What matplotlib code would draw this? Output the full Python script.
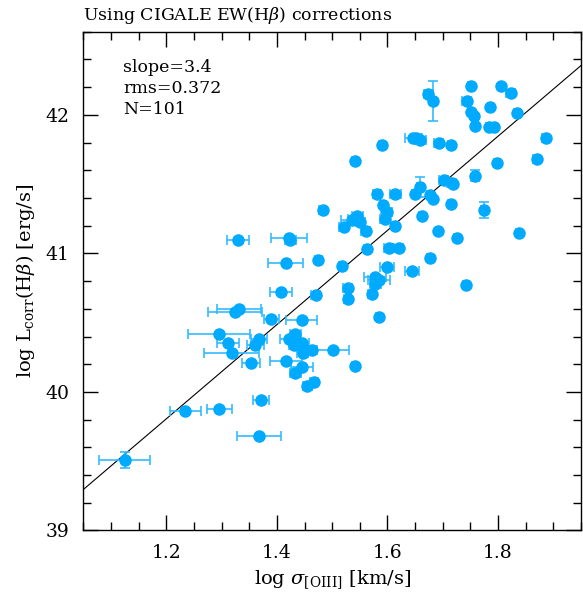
import numpy as np
import matplotlib.pyplot as plt
from matplotlib.ticker import MultipleLocator

# log sigma[OIII], log L_corr(Hbeta), errors
log_sigma = [1.751, 1.806, 1.823, 1.674, 1.683, 1.743, 1.786, 1.751, 1.756, 1.834,
             1.759, 1.784, 1.793, 1.646, 1.652, 1.659, 1.693, 1.715, 1.590, 1.541,
             1.886, 1.870, 1.798, 1.759, 1.702, 1.716, 1.718, 1.659, 1.649, 1.581,
             1.614, 1.676, 1.682, 1.592, 1.599, 1.595, 1.715, 1.774, 1.662, 1.545,
             1.539, 1.551, 1.521, 1.561, 1.614, 1.692, 1.725, 1.837, 1.602, 1.620,
             1.563, 1.416, 1.475, 1.407, 1.470, 1.332, 1.324, 1.390, 1.445, 1.296,
             1.368, 1.361, 1.312, 1.318, 1.353, 1.416, 1.422, 1.433, 1.431, 1.446,
             1.447, 1.464, 1.446, 1.433, 1.467, 1.455, 1.371, 1.296, 1.234, 1.368,
             1.125, 1.676, 1.518, 1.599, 1.644, 1.578, 1.584, 1.578, 1.528, 1.528,
             1.572, 1.742, 1.584, 1.501, 1.541, 1.536, 1.329, 1.422, 1.424, 1.483]
log_L = [42.21, 42.21, 42.16, 42.15, 42.10, 42.10, 42.06, 42.02, 41.99, 42.01,
         41.92, 41.91, 41.91, 41.83, 41.83, 41.82, 41.80, 41.78, 41.78, 41.67,
         41.83, 41.68, 41.65, 41.56, 41.53, 41.51, 41.50, 41.48, 41.43, 41.43,
         41.43, 41.42, 41.39, 41.35, 41.30, 41.25, 41.36, 41.31, 41.27, 41.27,
         41.25, 41.23, 41.19, 41.16, 41.20, 41.16, 41.11, 41.15, 41.04, 41.04,
         41.03, 40.93, 40.95, 40.72, 40.70, 40.60, 40.58, 40.53, 40.52, 40.42,
         40.38, 40.34, 40.35, 40.28, 40.21, 40.22, 40.38, 40.42, 40.34, 40.35,
         40.28, 40.30, 40.18, 40.14, 40.07, 40.04, 39.94, 39.88, 39.86, 39.68,
         39.51, 40.97, 40.91, 40.90, 40.87, 40.83, 40.81, 40.78, 40.75, 40.67,
         40.71, 40.77, 40.54, 40.30, 40.19, 41.24, 41.10, 41.11, 41.10, 41.31]
x_err = [0.005, 0.005, 0.008, 0.008, 0.005, 0.008, 0.005, 0.005, 0.005, 0.005,
         0.005, 0.005, 0.005, 0.015, 0.010, 0.010, 0.008, 0.005, 0.006, 0.006,
         0.006, 0.006, 0.005, 0.005, 0.008, 0.008, 0.005, 0.005, 0.005, 0.008,
         0.010, 0.005, 0.005, 0.005, 0.010, 0.008, 0.005, 0.005, 0.005, 0.010,
         0.010, 0.008, 0.008, 0.008, 0.005, 0.005, 0.005, 0.005, 0.008, 0.008,
         0.005, 0.032, 0.006, 0.020, 0.008, 0.040, 0.049, 0.013, 0.028, 0.056,
         0.015, 0.015, 0.020, 0.050, 0.016, 0.029, 0.016, 0.010, 0.010, 0.012,
         0.010, 0.008, 0.020, 0.010, 0.008, 0.008, 0.015, 0.022, 0.028, 0.040,
         0.046, 0.005, 0.006, 0.013, 0.013, 0.020, 0.020, 0.010, 0.008, 0.006,
         0.008, 0.005, 0.005, 0.030, 0.005, 0.020, 0.020, 0.032, 0.010, 0.006]
y_err = [0.01] * len(log_L)
y_err[4] = 0.144
y_err[23] = 0.04
y_err[27] = 0.07
y_err[37] = 0.058
y_err[80] = 0.06
y_err[84] = 0.02

slope = 3.4
x0, y0 = 1.05, 39.296

blue = '#00aaff'

plt.rcParams['font.family'] = ['DejaVu Serif']
plt.rcParams['mathtext.fontset'] = 'dejavuserif'

fig = plt.figure(figsize=(5.83, 5.93), dpi=100)
ax = fig.add_axes([0.143, 0.1054, 0.8536, 0.8411])

ax.errorbar(log_sigma, log_L, xerr=x_err, yerr=y_err, fmt='o', color=blue,
            ecolor='#33bbff', elinewidth=1.2, capsize=3.5, capthick=1.2,
            markersize=8, zorder=3)

xl = np.array([1.05, 1.95])
ax.plot(xl, y0 + slope * (xl - x0), color='black', lw=0.8, zorder=2)

ax.set_xlim(1.05, 1.95)
ax.set_ylim(39, 42.6)
ax.xaxis.set_major_locator(MultipleLocator(0.2))
ax.xaxis.set_minor_locator(MultipleLocator(0.05))
ax.yaxis.set_major_locator(MultipleLocator(1))
ax.yaxis.set_minor_locator(MultipleLocator(0.2))
ax.tick_params(which='both', direction='in', top=True, right=True,
               labelsize=13.5, width=1.0)
ax.tick_params(which='major', length=11, pad=10)
ax.tick_params(which='minor', length=6)
for sp in ax.spines.values():
    sp.set_linewidth(1.0)

ax.set_xlabel(r'log $\sigma_{\rm [OIII]}$ [km/s]', fontsize=14, labelpad=4)
ax.set_ylabel(r'log L$_{\rm corr}$(H$\beta$) [erg/s]', fontsize=14, labelpad=6)
ax.text(0.0, 1.012, r'Using CIGALE EW(H$\beta$) corrections', transform=ax.transAxes,
        fontsize=12.5, ha='left', va='bottom')
ax.text(0.08, 0.945, 'slope=3.4\nrms=0.372\nN=101', transform=ax.transAxes,
        fontsize=12.5, ha='left', va='top', linespacing=1.3)

fig.savefig('out.png', dpi=100)
